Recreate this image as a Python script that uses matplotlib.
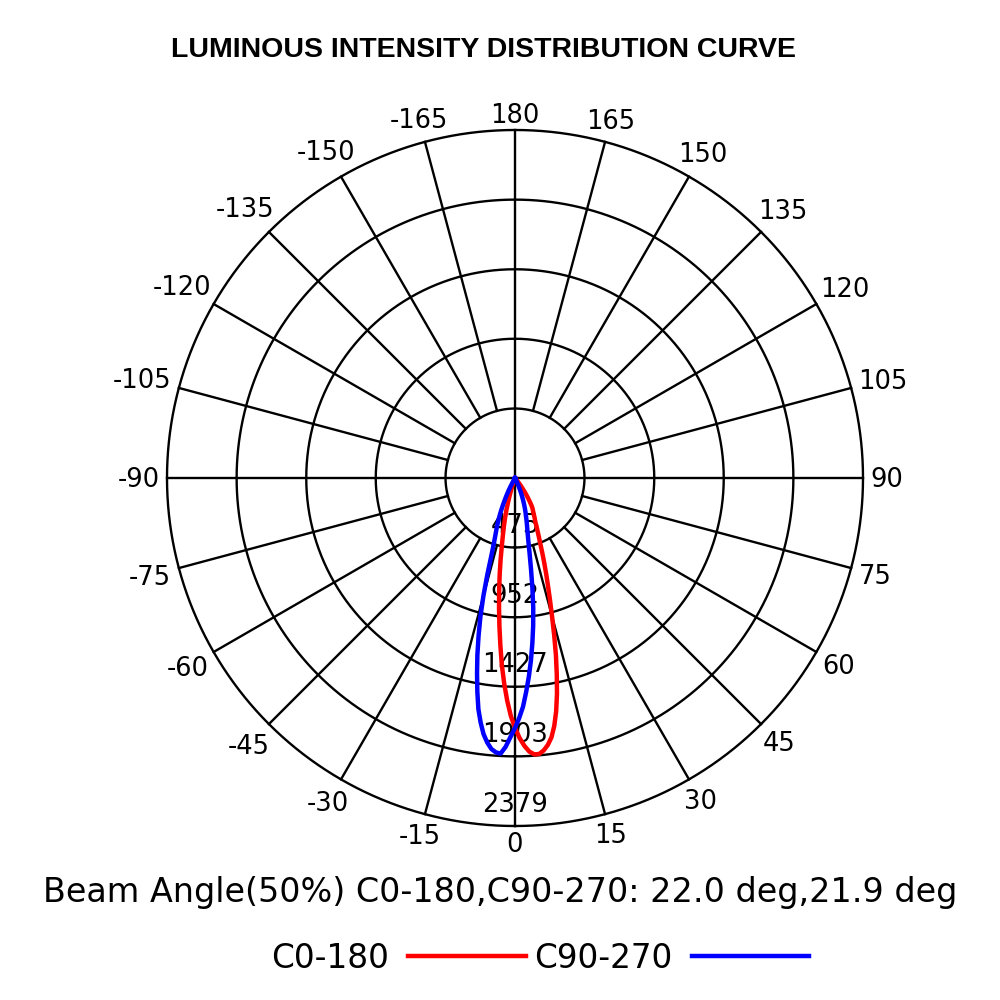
import matplotlib.pyplot as plt
import numpy as np

# gamma angle (deg, 0 = straight down, positive to the right) and intensities (cd)
gamma = list(range(-30, 41))
c0_180 = [0, 0, 0, 0, 0, 0, 0, 0, 0,
          14, 27, 55, 82, 123, 171, 226, 280, 335, 396,
          472, 567, 670, 779, 896, 1019, 1148, 1285, 1408, 1524,
          1627, 1709, 1777, 1832, 1873, 1894, 1894, 1873, 1839, 1791,
          1716, 1620, 1504, 1374, 1244, 1107, 978, 868, 772, 690,
          615, 547, 485, 437, 396, 362, 328, 308, 287, 267,
          253, 239, 219, 191, 164, 137, 109, 82, 62, 41,
          21, 0]
c90_270 = [0, 27, 62, 96, 130, 164, 205, 246, 287, 328,
           369, 410, 465, 547, 684, 834, 978, 1107, 1237, 1360,
           1483, 1600, 1688, 1764, 1818, 1859, 1880, 1887, 1839, 1771,
           1709, 1641, 1565, 1463, 1360, 1251, 1135, 1019, 896, 759,
           629, 520, 437, 383, 342, 308, 273, 246, 219, 191,
           164, 137, 109, 82, 55, 34, 14, 0, 0, 0,
           0, 0, 0, 0, 0, 0, 0, 0, 0, 0, 0]

ring_values = [475, 952, 1427, 1903, 2379]
ring_labels = ['475', '952', '1427', '1903', '2379']
r_max = 2379
angle_ticks = list(range(-165, 181, 15))

title = "LUMINOUS INTENSITY DISTRIBUTION CURVE"
beam_text = "Beam Angle(50%) C0-180,C90-270: 22.0 deg,21.9 deg"
series_names = ["C0-180", "C90-270"]

fig = plt.figure(figsize=(10, 10), dpi=100)
ax = fig.add_axes([0.167, 0.174, 0.696, 0.696], projection='polar')
ax.set_theta_zero_location('S')
ax.set_theta_direction(1)
ax.set_ylim(0, r_max)
ax.set_xticks([])
ax.set_yticks([])
ax.grid(False)
ax.spines['polar'].set_visible(False)

grid_kw = dict(color='black', lw=1.7, clip_on=False, zorder=1)

# rings
full = np.linspace(0, 2 * np.pi, 721)
for rv in ring_values:
    ax.plot(full, np.full_like(full, rv), **grid_kw)

# radial spokes, the four main axes go through the centre
for a in range(0, 360, 15):
    start = 0 if a % 90 == 0 else ring_values[0]
    ax.plot([np.deg2rad(a)] * 2, [start, r_max], **grid_kw)

fs = 18.5

# ring value labels along the 0 direction
for rv, lab in zip(ring_values, ring_labels):
    ax.annotate(lab, xy=(0, rv), xytext=(0, 6), textcoords='offset points',
                ha='center', va='bottom', fontsize=fs, zorder=2)

# angle labels around the outside
px_pt = 100 / 72
for a in angle_ticks:
    lab = str(a)
    em = fs * px_pt
    w = em * sum(0.361 if ch == '-' else 0.636 for ch in lab)
    s, c = np.sin(np.deg2rad(a)), np.cos(np.deg2rad(a))
    d = 7 + abs(s) * w / 2 + abs(c) * 9.5
    ox, oy = s * d / px_pt, -c * d / px_pt
    ax.annotate(lab, xy=(np.deg2rad(a), r_max), xytext=(ox, oy - 0.729 * fs / 2),
                textcoords='offset points', ha='center', va='baseline',
                fontsize=fs, annotation_clip=False)

# curves
th = np.deg2rad(gamma)
line_red, = ax.plot(th, c0_180, color='#ff0000', lw=3.2, zorder=3, label=series_names[0])
line_blue, = ax.plot(th, c90_270, color='#0000ff', lw=3.2, zorder=3, label=series_names[1])

fig.text(0.4835, 0.943, title, ha='center', va='baseline', fontsize=20.5,
         fontweight='bold', family='Liberation Sans')
fig.text(0.5, 0.098, beam_text, ha='center', va='baseline', fontsize=24)

fig.legend(handles=[line_red, line_blue], labels=series_names, loc='center',
           bbox_to_anchor=(0.54, 0.042), ncol=2, frameon=False, markerfirst=False,
           fontsize=23.5, handlelength=3.6, handletextpad=0.6, columnspacing=0.25,
           borderpad=0, borderaxespad=0)

fig.savefig('out.png', dpi=100, facecolor='white')
